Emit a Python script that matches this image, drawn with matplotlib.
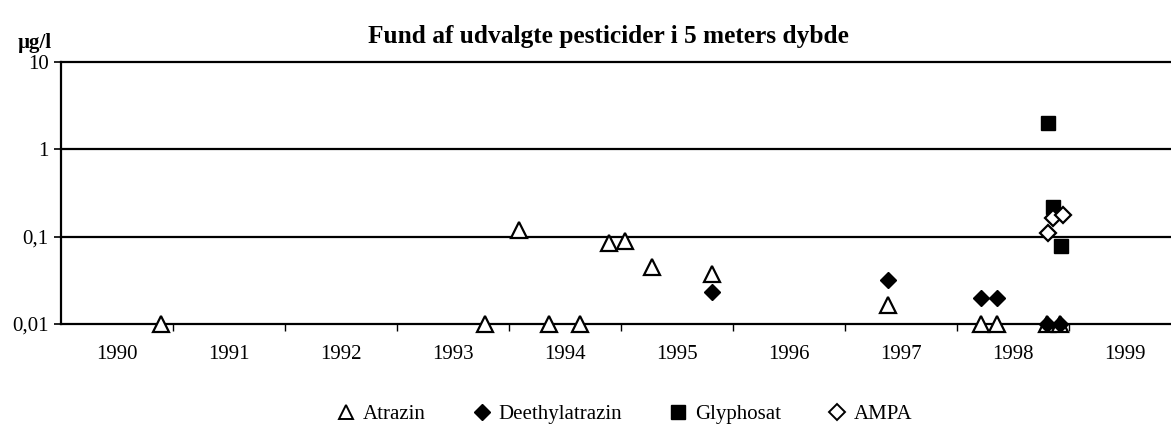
import matplotlib.pyplot as plt
from matplotlib.lines import Line2D

# Measurements (year as decimal, value in ug/l)
atrazin_x = [1990.89, 1993.79, 1994.09, 1994.36, 1994.63, 1994.89, 1995.04,
             1995.28, 1995.81, 1997.38, 1998.21, 1998.36, 1998.80, 1998.92]
atrazin_y = [0.01, 0.01, 0.12, 0.01, 0.01, 0.085, 0.089,
             0.045, 0.037, 0.0165, 0.01, 0.01, 0.01, 0.01]

deethyl_x = [1995.81, 1997.38, 1998.21, 1998.36, 1998.80, 1998.92]
deethyl_y = [0.023, 0.032, 0.020, 0.020, 0.01, 0.01]

glyph_x = [1998.81, 1998.86, 1998.93]
glyph_y = [2.0, 0.22, 0.078]

ampa_x = [1998.81, 1998.86, 1998.95]
ampa_y = [0.11, 0.165, 0.177]

years = list(range(1990, 2000))
y_ticks = [0.01, 0.1, 1, 10]
y_labels = ["0,01", "0,1", "1", "10"]

plt.rcParams['font.family'] = ['Liberation Serif', 'DejaVu Serif']

W, H = 1171, 432
fig = plt.figure(figsize=(W / 100, H / 100), dpi=100)
ax = fig.add_axes([61 / W, 1 - 324 / H, (W - 61) / W, (324 - 62) / H])

ax.set_yscale('log')
ax.set_ylim(0.01, 10)
ax.set_xlim(1990, 1990 + (W - 61) / 112)

# Horizontal gridlines
for v in y_ticks:
    ax.axhline(v, color='black', lw=1.6, zorder=1, clip_on=False)

ax.set_yticks(y_ticks)
ax.set_yticklabels(y_labels, fontsize=15)
ax.yaxis.set_minor_locator(plt.NullLocator())
ax.tick_params(axis='y', length=5, width=1.2, pad=4)

# Year labels centred in each interval, ticks at boundaries
ax.set_xticks([y + 1 for y in years[:-1]])
ax.set_xticklabels([])
ax.set_xticks([y + 0.5 for y in years], minor=True)
ax.set_xticklabels([str(y) for y in years], minor=True, fontsize=15)
ax.tick_params(axis='x', which='major', length=5, width=1, direction='out')
ax.tick_params(axis='x', which='minor', length=0, pad=15)

for s in ['top', 'right', 'bottom']:
    ax.spines[s].set_visible(False)
ax.spines['left'].set_linewidth(1.6)

ms = 10
mew = 1.6
ax.plot(atrazin_x, atrazin_y, ls='none', marker='^', ms=ms + 1, mfc='white',
        mec='black', mew=mew, clip_on=False, zorder=3)
ax.plot(deethyl_x, deethyl_y, ls='none', marker='D', ms=ms - 2, mfc='black',
        mec='black', clip_on=False, zorder=4)
ax.plot(glyph_x, glyph_y, ls='none', marker='s', ms=ms, mfc='black',
        mec='black', clip_on=False, zorder=5)
ax.plot(ampa_x, ampa_y, ls='none', marker='D', ms=ms - 2, mfc='white',
        mec='black', mew=mew, clip_on=False, zorder=6)

fig.text(608 / W, 1 - 37 / H, "Fund af udvalgte pesticider i 5 meters dybde",
         ha='center', va='center', fontsize=18.3, fontweight='bold')
fig.text(18 / W, 1 - 43 / H, "µg/l", ha='left', va='center',
         fontsize=15, fontweight='bold')

handles = [
    Line2D([], [], ls='none', marker='^', ms=10, mfc='white', mec='black', mew=1.4),
    Line2D([], [], ls='none', marker='D', ms=8, mfc='black', mec='black'),
    Line2D([], [], ls='none', marker='s', ms=10, mfc='black', mec='black'),
    Line2D([], [], ls='none', marker='D', ms=8, mfc='white', mec='black', mew=1.4),
]
labels = ["Atrazin", "Deethylatrazin", "Glyphosat", "AMPA"]
fig.legend(handles, labels, loc='center', bbox_to_anchor=(624 / W, 1 - 414 / H),
           ncol=4, frameon=False, fontsize=15, handletextpad=0.3,
           columnspacing=2.2, handlelength=1.0)

fig.savefig('out.png', dpi=100, facecolor='white')
